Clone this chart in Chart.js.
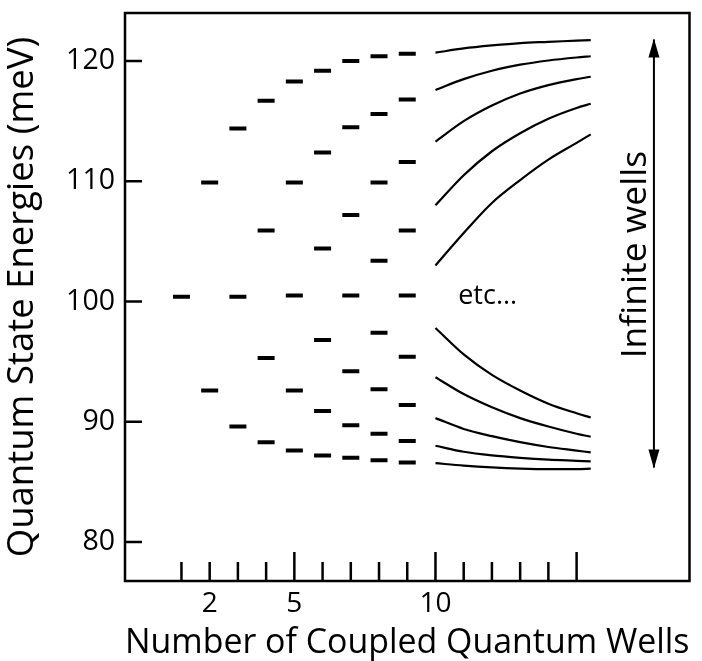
<!DOCTYPE html>
<html><head><meta charset="utf-8">
<script src="https://cdn.jsdelivr.net/npm/chart.js@4/dist/chart.umd.min.js"></script>
<style>html,body{margin:0;padding:0;background:#fff;}#wrap{width:702px;height:661px;position:relative;}</style>
</head><body><div id="wrap"><canvas id="c"></canvas></div>
<script>
// ---- data ----
const wellCounts = [1, 2, 3, 4, 5, 6, 7, 8, 9];
const levels1 = [100.4];
const levels2 = [109.9, 92.6];
const levels3 = [114.4, 100.4, 89.6];
const levels4 = [116.7, 105.9, 95.3, 88.3];
const levels5 = [118.3, 109.9, 100.5, 92.6, 87.6];
const levels6 = [119.2, 112.4, 104.4, 96.8, 90.9, 87.2];
const levels7 = [120.0, 114.5, 107.2, 100.5, 94.2, 89.7, 87.0];
const levels8 = [120.4, 115.6, 109.9, 103.4, 97.4, 92.7, 89.0, 86.8];
const levels9 = [120.6, 116.8, 111.6, 105.9, 100.5, 95.4, 91.4, 88.4, 86.6];
const allLevels = [levels1, levels2, levels3, levels4, levels5, levels6, levels7, levels8, levels9];

const curveX = [10, 11, 12, 13, 14, 15, 15.5];
const upper1 = [120.7, 121.05, 121.3, 121.5, 121.6, 121.7, 121.75];
const upper2 = [117.6, 118.5, 119.2, 119.7, 120.05, 120.3, 120.4];
const upper3 = [113.3, 115.0, 116.3, 117.3, 118.0, 118.5, 118.7];
const upper4 = [108.0, 110.5, 112.5, 114.0, 115.2, 116.1, 116.45];
const upper5 = [103.0, 105.7, 108.2, 110.1, 111.8, 113.2, 113.9];
const lower1 = [97.8, 95.6, 93.9, 92.6, 91.5, 90.7, 90.35];
const lower2 = [93.7, 92.3, 91.2, 90.3, 89.6, 89.0, 88.75];
const lower3 = [90.3, 89.4, 88.8, 88.3, 87.9, 87.6, 87.45];
const lower4 = [88.0, 87.5, 87.2, 87.0, 86.85, 86.75, 86.7];
const lower5 = [86.55, 86.35, 86.2, 86.1, 86.05, 86.05, 86.1];
const curves = [upper1, upper2, upper3, upper4, upper5, lower1, lower2, lower3, lower4, lower5];

const arrowX = 17.74;
const arrowRange = [86.2, 121.8];

const xTickValues = [1, 2, 3, 4, 5, 6, 7, 8, 9, 10, 11, 12, 13, 14, 15];
const xMajorTicks = [5, 10, 15];
const xTickLabels = [2, 5, 10];
const yTickLabels = [80, 90, 100, 110, 120];

const etcText = 'etc...';
const etcPos = [11.85, 100.4];
const infiniteText = 'Infinite wells';
const infinitePos = [17.1, 103.9];

// ---- build datasets ----
const FONT = '"Open Sans", "DejaVu Sans", sans-serif';
const dashPoints = [];
wellCounts.forEach((n, i) => allLevels[i].forEach(e => dashPoints.push({x: n, y: e})));

const datasets = [{
  type: 'scatter',
  data: dashPoints,
  pointStyle: 'line',
  pointRadius: 8.5,
  pointBorderWidth: 4,
  borderColor: '#000',
  backgroundColor: '#000',
  showLine: false
}];
curves.forEach(c => datasets.push({
  type: 'line',
  data: curveX.map((x, i) => ({x, y: c[i]})),
  borderColor: '#000',
  borderWidth: 2.2,
  pointRadius: 0,
  cubicInterpolationMode: 'monotone',
  fill: false
}));
datasets.push({
  type: 'line',
  data: arrowRange.map(v => ({x: arrowX, y: v})),
  borderColor: '#000',
  borderWidth: 2,
  pointRadius: 0,
  fill: false
});

const decorPlugin = {
  id: 'decor',
  afterDraw(chart) {
    const {ctx, chartArea: a, scales: {x, y}} = chart;
    ctx.save();
    ctx.strokeStyle = '#000';
    ctx.fillStyle = '#000';
    ctx.lineWidth = 2.5;
    ctx.strokeRect(a.left, a.top, a.right - a.left, a.bottom - a.top);
    ctx.beginPath();
    xTickValues.forEach(v => {
      const px = x.getPixelForValue(v);
      const len = xMajorTicks.includes(v) ? 29 : 19;
      ctx.moveTo(px, a.bottom); ctx.lineTo(px, a.bottom - len);
    });
    yTickLabels.forEach(v => {
      const py = y.getPixelForValue(v);
      ctx.moveTo(a.left, py); ctx.lineTo(a.left + 17, py);
    });
    ctx.stroke();
    // arrowheads
    const ax = x.getPixelForValue(arrowX);
    const yTop = y.getPixelForValue(arrowRange[1]);
    const yBot = y.getPixelForValue(arrowRange[0]);
    ctx.beginPath();
    ctx.moveTo(ax, yTop - 1); ctx.lineTo(ax - 5.5, yTop + 18); ctx.lineTo(ax + 5.5, yTop + 18); ctx.closePath();
    ctx.moveTo(ax, yBot + 1); ctx.lineTo(ax - 5.5, yBot - 18); ctx.lineTo(ax + 5.5, yBot - 18); ctx.closePath();
    ctx.fill();
    // texts
    ctx.font = '27px ' + FONT;
    ctx.textAlign = 'center';
    ctx.textBaseline = 'middle';
    ctx.fillText(etcText, x.getPixelForValue(etcPos[0]), y.getPixelForValue(etcPos[1]));
    ctx.save();
    ctx.translate(x.getPixelForValue(infinitePos[0]), y.getPixelForValue(infinitePos[1]));
    ctx.rotate(-Math.PI / 2);
    ctx.font = '35.5px ' + FONT;
    ctx.fillText(infiniteText, 0, 0);
    ctx.restore();
    ctx.restore();
  }
};

new Chart(document.getElementById('c'), {
  data: {datasets},
  options: {
    responsive: true,
    maintainAspectRatio: false,
    animation: false,
    events: [],
    layout: {padding: {top: 13, right: 10, left: 0, bottom: 0}},
    plugins: {legend: {display: false}, tooltip: {enabled: false}},
    scales: {
      x: {
        type: 'linear', min: -1, max: 19,
        afterFit(s) { s.height = 80; s.paddingLeft = 0; s.paddingRight = 0; },
        afterBuildTicks(s) { s.ticks = xTickLabels.map(v => ({value: v})); },
        grid: {display: false, drawTicks: false},
        border: {display: false},
        ticks: {color: '#000', font: {family: FONT, size: 28}, padding: 6, maxRotation: 0, autoSkip: false},
        title: {display: true, text: 'Number of Coupled Quantum Wells', color: '#000',
          font: {family: FONT, size: 35, lineHeight: 1}, padding: {top: 0, bottom: 0}}
      },
      y: {
        type: 'linear', min: 76.75, max: 124,
        afterFit(s) { s.width = 125; s.paddingTop = 0; s.paddingBottom = 0; },
        afterBuildTicks(s) { s.ticks = yTickLabels.map(v => ({value: v})); },
        grid: {display: false, drawTicks: false},
        border: {display: false},
        ticks: {color: '#000', font: {family: FONT, size: 28.5}, padding: 10},
        title: {display: true, text: 'Quantum State Energies (meV)', color: '#000',
          font: {family: FONT, size: 36.5, lineHeight: 1}, padding: {top: 4.5, bottom: 0}}
      }
    }
  },
  plugins: [decorPlugin]
});
</script></body></html>
